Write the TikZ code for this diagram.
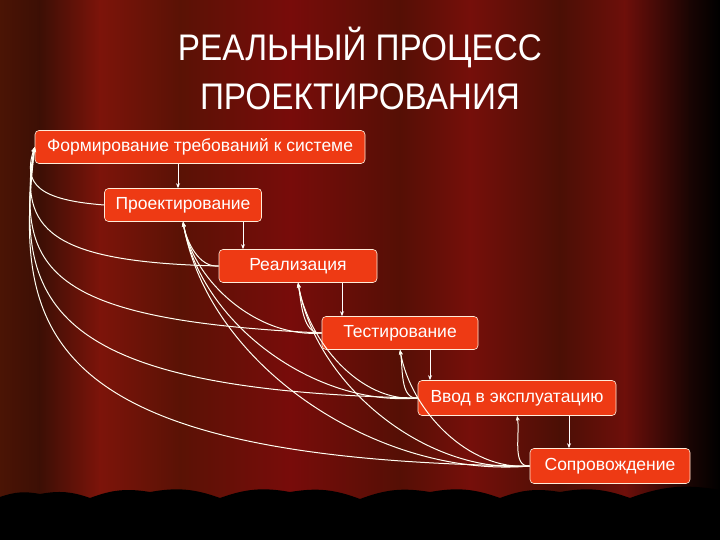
\documentclass[tikz,border=0pt]{standalone}
\usepackage{fontspec}
\usetikzlibrary{arrows.meta}
\setmainfont{Liberation Sans}
\definecolor{nodefill}{RGB}{238,58,20}
\begin{document}
\begin{tikzpicture}[x=1pt,y=-1pt,
  box/.style={draw=white!85!orange,line width=0.6pt,fill=nodefill,rounded corners=4pt,text=white,font=\fontsize{17.5}{19}\selectfont,inner sep=0pt},
  fb/.style={draw=white!95!yellow,line width=1pt,-{Stealth[length=5pt,width=4pt]}},
  dn/.style={draw=white,line width=0.8pt,-{Stealth[length=5pt,width=4pt]}}]
\useasboundingbox (0,0) rectangle (720,540);
% curtain background
\foreach \xa/\xb/\ca/\cb in {0/40/{rgb,255:red,75;green,20;blue,5}/{rgb,255:red,60;green,15;blue,5},
 40/100/{rgb,255:red,60;green,15;blue,5}/{rgb,255:red,125;green,20;blue,10},
 100/180/{rgb,255:red,125;green,20;blue,10}/{rgb,255:red,90;green,18;blue,5},
 180/290/{rgb,255:red,90;green,18;blue,5}/{rgb,255:red,120;green,12;blue,10},
 290/400/{rgb,255:red,120;green,12;blue,10}/{rgb,255:red,85;green,15;blue,5},
 400/470/{rgb,255:red,85;green,15;blue,5}/{rgb,255:red,118;green,15;blue,10},
 470/560/{rgb,255:red,118;green,15;blue,10}/{rgb,255:red,75;green,15;blue,5},
 560/625/{rgb,255:red,75;green,15;blue,5}/{rgb,255:red,110;green,15;blue,10},
 625/690/{rgb,255:red,110;green,15;blue,10}/{rgb,255:red,25;green,5;blue,3},
 690/720/{rgb,255:red,25;green,5;blue,3}/black}
  {\shade[left color=\ca,right color=\cb,draw=none] (\xa-0.5,0) rectangle (\xb+0.5,540);}
% curtain bottom
\fill[black] (0,540) -- (0,497) to[bend left=15] (40,494) to[bend left=15] (90,498) to[bend left=15] (150,492)
  to[bend left=15] (220,498) to[bend left=15] (290,492) to[bend left=15] (360,499) to[bend left=15] (430,492)
  to[bend left=15] (500,498) to[bend left=15] (560,492) to[bend left=15] (630,498) to[bend left=15] (720,490) -- (720,540) -- cycle;
% title
\node[text=white,font=\fontsize{37}{49}\selectfont,align=center,xscale=0.9] (title) at (360,68) {РЕАЛЬНЫЙ ПРОЦЕСС\\ПРОЕКТИРОВАНИЯ};
% nodes
\node[box,minimum width=330,minimum height=33] (F) at (200,147) {Формирование требований к системе};
\node[box,minimum width=157,minimum height=33] (P) at (183,205) {Проектирование};
\node[box,minimum width=158,minimum height=33] (R) at (298,266) {Реализация};
\node[box,minimum width=156,minimum height=33] (T) at (400,333) {Тестирование};
\node[box,minimum width=198,minimum height=35] (V) at (517,398) {Ввод в эксплуатацию};
\node[box,minimum width=160,minimum height=35] (S) at (610,466) {Сопровождение};
% forward arrows
\draw[dn] (F.south) ++(-22,0) coordinate (f1) -- (f1 |- P.north);
\draw[dn] (P.south) ++(60,0) coordinate (p1) -- (p1 |- R.north);
\draw[dn] (R.south) ++(44,0) coordinate (r1) -- (r1 |- T.north);
\draw[dn] (T.south) ++(30,0) coordinate (t1) -- (t1 |- V.north);
\draw[dn] (V.south) ++(52,0) coordinate (v1) -- (v1 |- S.north);
% feedback to F
\draw[fb] (P.west) .. controls (40,200) and (22,185) .. (F.west);
\draw[fb] (R.west) .. controls (50,262) and (18,230) .. (F.west);
\draw[fb] (T.west) .. controls (45,320) and (16,270) .. (F.west);
\draw[fb] (V.west) .. controls (40,390) and (15,300) .. (F.west);
\draw[fb] (S.west) .. controls (35,460) and (14,330) .. (F.west);
% feedback to others
\foreach \a/\b in {R/P,T/P,V/P,S/P,T/R,V/R,S/R,V/T,S/T,S/V}
  \draw[fb] (\a.west) to[out=185,in=-80,looseness=0.9] (\b.south);
\end{tikzpicture}
\end{document}
